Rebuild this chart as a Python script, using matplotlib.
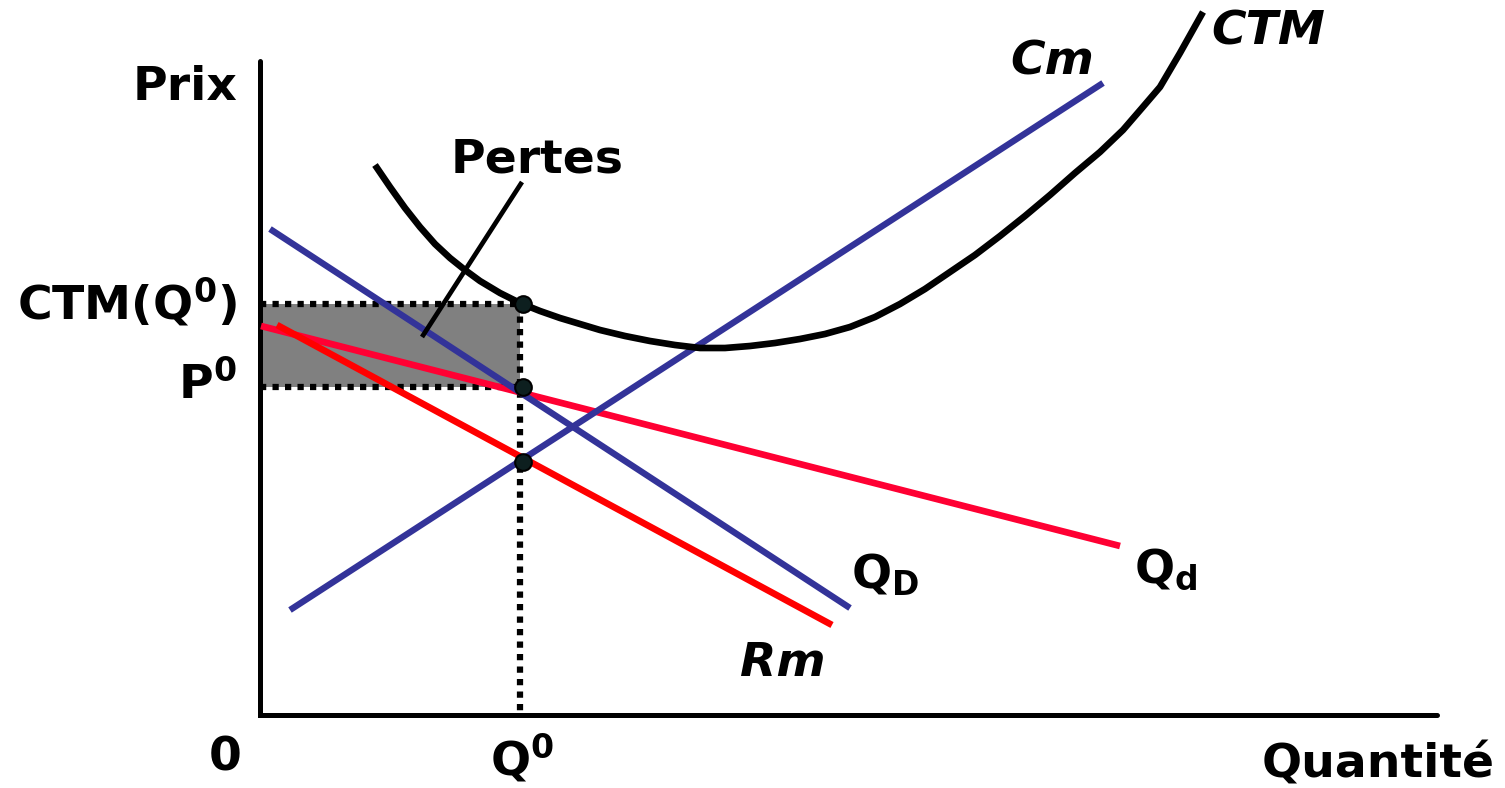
import matplotlib
matplotlib.use("Agg")
import matplotlib.pyplot as plt
import matplotlib.patches as mpatches

plt.rcParams["font.family"] = ["DejaVu Sans"]
plt.rcParams["mathtext.fontset"] = "dejavusans"
plt.rcParams["mathtext.default"] = "bf"

BLUE = "#333399"
RED = "#FF0000"
PINK = "#FF0033"

# ── data (quantity, price) ───────────────────────────────────────────────────
Q0 = 2.60
CTM_Q0 = 4.11
P0 = 3.28
CM_Q0 = 2.53

cm_q = [0.30, 8.43]
cm_p = [1.05, 6.32]

qD_q = [0.10, 5.90]
qD_p = [4.86, 1.07]

qd_q = [0.01, 8.60]
qd_p = [3.89, 1.69]

rm_q = [0.17, 5.72]
rm_p = [3.90, 0.90]

ctm_q = [1.15, 1.30, 1.45, 1.60, 1.75, 1.90, 2.05, 2.20, 2.40, 2.60, 2.80,
         3.00, 3.20, 3.40, 3.65, 3.90, 4.15, 4.40, 4.65, 4.90, 5.15, 5.40,
         5.65, 5.90, 6.15, 6.40, 6.65, 6.90, 7.15, 7.40, 7.65, 7.90, 8.15,
         8.40, 8.63, 8.82, 9.00, 9.20, 9.43]
ctm_p = [5.50, 5.28, 5.07, 4.88, 4.71, 4.57, 4.45, 4.34, 4.22, 4.12, 4.04,
         3.97, 3.91, 3.85, 3.79, 3.74, 3.70, 3.67, 3.67, 3.69, 3.72, 3.76,
         3.81, 3.88, 3.98, 4.11, 4.26, 4.43, 4.60, 4.79, 4.99, 5.20, 5.42,
         5.63, 5.85, 6.07, 6.28, 6.62, 7.03]

pertes_q = [2.62, 1.62]
pertes_p = [5.33, 3.78]

fig = plt.figure(figsize=(15.05, 7.88), dpi=100)
ax = fig.add_axes([0, 0, 1, 1])
ax.set_xlim(-2.60, 12.45)
ax.set_ylim(-0.73, 7.15)
ax.axis("off")

# shaded loss area
ax.add_patch(mpatches.Rectangle((0, P0), Q0, CTM_Q0 - P0, color="#808080", lw=0, zorder=1))

# axes
ax.plot([0, 0, 11.77], [6.54, 0, 0], color="black", lw=3.6,
        solid_joinstyle="miter", solid_capstyle="round", zorder=2)

# dotted guides
dot = dict(color="black", lw=4.5, dashes=(1, 1), dash_capstyle="butt", zorder=3)
ax.plot([0, Q0], [CTM_Q0, CTM_Q0], **dot)
ax.plot([0, Q0], [P0, P0], **dot)
ax.plot([Q0, Q0], [CTM_Q0, 0], **dot)

# curves
ax.plot(qd_q, qd_p, color=PINK, lw=4.8, solid_capstyle="butt", zorder=4)
ax.plot(rm_q, rm_p, color=RED, lw=4.8, solid_capstyle="butt", zorder=4)
ax.plot(qD_q, qD_p, color=BLUE, lw=4.6, solid_capstyle="butt", zorder=5)
ax.plot(cm_q, cm_p, color=BLUE, lw=4.6, solid_capstyle="butt", zorder=5)
ax.plot(ctm_q, ctm_p, color="black", lw=4.8, solid_capstyle="butt",
        solid_joinstyle="round", zorder=5)
ax.plot(pertes_q, pertes_p, color="black", lw=3.4, solid_capstyle="butt", zorder=6)

# points
ax.plot([Q0 + 0.03] * 3, [CTM_Q0, P0, CM_Q0], "o", ms=12, color="#0d1f1f",
        mec="black", mew=1.5, zorder=7)

# labels
fs = 34
txt = dict(fontsize=fs, fontweight="bold", color="black")
ax.text(-0.75, 6.27, "Prix", ha="center", va="center", **txt)
ax.text(-0.23, 4.12, "CTM(Q$^{0}$)", ha="right", va="center", **txt)
ax.text(-0.23, 3.30, "P$^{0}$", ha="right", va="center", **txt)
ax.text(-0.35, -0.43, "0", ha="center", va="center", **txt)
ax.text(2.62, -0.43, "Q$^{0}$", ha="center", va="center", **txt)
ax.text(11.18, -0.50, "Quantité", ha="center", va="center", **txt)
ax.text(2.77, 5.55, "Pertes", ha="center", va="center", **txt)
ax.text(7.92, 6.53, "Cm", ha="center", va="center", style="italic", **txt)
ax.text(10.08, 6.83, "CTM", ha="center", va="center", style="italic", **txt)
ax.text(5.23, 0.52, "Rm", ha="center", va="center", style="italic", **txt)
ax.text(6.25, 1.40, "Q$_{D}$", ha="center", va="center", **txt)
ax.text(9.06, 1.45, "Q$_{d}$", ha="center", va="center", **txt)

fig.savefig("out.png", dpi=100)
